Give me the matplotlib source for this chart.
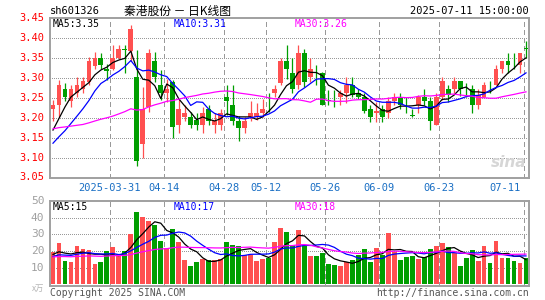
import numpy as np
import pandas as pd
import matplotlib
matplotlib.use("Agg")
import matplotlib.pyplot as plt

# --- data (80 trading days, 2025-03-17 .. 2025-07-11) ------------------------

opens = [3.222, 3.232, 3.272, 3.242, 3.261, 3.272, 3.290, 3.330, 3.350, 3.322,
         3.323, 3.350, 3.371, 3.367, 3.302, 3.133, 3.227, 3.342, 3.282, 3.263,
         3.289, 3.182, 3.202, 3.202, 3.194, 3.182, 3.222, 3.182, 3.182, 3.252,
         3.232, 3.192, 3.173, 3.202, 3.202, 3.211, 3.242, 3.263, 3.286, 3.342,
         3.311, 3.282, 3.361, 3.302, 3.320, 3.311, 3.245, 3.252, 3.252, 3.261,
         3.282, 3.261, 3.252, 3.222, 3.211, 3.222, 3.211, 3.242, 3.252, 3.217,
         3.206, 3.232, 3.252, 3.242, 3.182, 3.252, 3.272, 3.272, 3.292, 3.272,
         3.272, 3.232, 3.252, 3.282, 3.282, 3.322, 3.342, 3.342, 3.332, 3.373]
closes = [3.232, 3.282, 3.252, 3.272, 3.282, 3.292, 3.342, 3.350, 3.332, 3.318,
          3.350, 3.373, 3.371, 3.423, 3.092, 3.223, 3.361, 3.302, 3.263, 3.273,
          3.177, 3.222, 3.212, 3.182, 3.182, 3.211, 3.192, 3.192, 3.211, 3.242,
          3.192, 3.173, 3.192, 3.211, 3.211, 3.222, 3.242, 3.272, 3.342, 3.323,
          3.273, 3.361, 3.290, 3.322, 3.320, 3.233, 3.243, 3.252, 3.261, 3.282,
          3.258, 3.252, 3.218, 3.202, 3.217, 3.202, 3.242, 3.252, 3.232, 3.217,
          3.206, 3.252, 3.242, 3.192, 3.252, 3.292, 3.256, 3.292, 3.272, 3.272,
          3.232, 3.256, 3.282, 3.282, 3.322, 3.342, 3.332, 3.342, 3.361, 3.373]
highs = [3.244, 3.294, 3.286, 3.282, 3.302, 3.302, 3.352, 3.365, 3.361, 3.335,
         3.382, 3.382, 3.382, 3.432, 3.371, 3.278, 3.373, 3.365, 3.320, 3.298,
         3.294, 3.248, 3.232, 3.215, 3.211, 3.228, 3.233, 3.211, 3.223, 3.282,
         3.282, 3.203, 3.201, 3.242, 3.238, 3.248, 3.262, 3.282, 3.350, 3.382,
         3.350, 3.382, 3.373, 3.350, 3.332, 3.315, 3.270, 3.269, 3.270, 3.302,
         3.302, 3.273, 3.263, 3.232, 3.240, 3.233, 3.252, 3.261, 3.261, 3.252,
         3.223, 3.257, 3.272, 3.252, 3.261, 3.301, 3.282, 3.302, 3.292, 3.286,
         3.282, 3.273, 3.290, 3.292, 3.332, 3.342, 3.361, 3.361, 3.361, 3.392]
lows = [3.192, 3.202, 3.242, 3.227, 3.252, 3.261, 3.282, 3.323, 3.323, 3.295,
        3.319, 3.348, 3.311, 3.342, 3.080, 3.098, 3.215, 3.290, 3.244, 3.240,
        3.150, 3.161, 3.192, 3.173, 3.169, 3.161, 3.182, 3.161, 3.169, 3.207,
        3.182, 3.142, 3.161, 3.192, 3.194, 3.202, 3.215, 3.252, 3.282, 3.298,
        3.263, 3.272, 3.277, 3.290, 3.282, 3.232, 3.233, 3.227, 3.233, 3.238,
        3.252, 3.248, 3.213, 3.188, 3.190, 3.190, 3.198, 3.232, 3.222, 3.213,
        3.202, 3.211, 3.232, 3.169, 3.182, 3.244, 3.240, 3.261, 3.255, 3.252,
        3.211, 3.222, 3.252, 3.262, 3.282, 3.311, 3.311, 3.322, 3.311, 3.350]
volumes = [19.6, 25.0, 14.0, 13.4, 23.0, 21.2, 20.6, 12.2, 13.4, 20.0,
           22.4, 18.0, 20.0, 30.2, 43.4, 40.4, 38.0, 35.6, 26.0, 21.5,
           33.2, 25.4, 14.6, 11.0, 13.4, 15.2, 14.6, 14.6, 15.2, 25.2,
           23.6, 23.0, 17.6, 17.6, 14.0, 15.4, 16.0, 25.4, 34.0, 31.4,
           23.6, 32.6, 23.6, 17.0, 17.0, 18.6, 12.2, 11.6, 11.0, 13.6,
           14.6, 17.6, 21.2, 13.4, 21.8, 17.6, 30.8, 19.6, 14.6, 16.4,
           17.0, 15.2, 16.4, 21.2, 23.0, 24.8, 22.4, 18.8, 11.0, 15.8,
           20.6, 14.0, 23.0, 12.8, 26.0, 15.6, 15.6, 14.0, 13.0, 15.6]

# history just before the window, estimated from where the MA lines start
pre_close = [3.19, 3.20, 3.21, 3.22, 3.23, 3.22, 3.21, 3.20, 3.21, 3.22,
             3.21, 3.20, 3.21, 3.19, 3.18, 3.16, 3.15, 3.14, 3.13, 3.12,
             3.12, 3.10, 3.09, 3.10, 3.105, 3.137, 3.107, 3.147, 3.222]
pre_vol = [16, 15, 17, 16, 18, 15, 16, 17, 15, 16, 17, 16, 15, 17, 16,
           18, 15, 16, 17, 16, 15, 16, 15, 16, 15.5, 17, 18, 16, 19]

tick_pos = [10, 19, 29, 36, 46, 55, 65, 79]
tick_labels = ["2025-03-31", "04-14", "04-28", "05-12", "05-26",
               "06-09", "06-23", "07-11"]
price_ticks = [3.05, 3.10, 3.15, 3.20, 3.25, 3.30, 3.35, 3.40, 3.45]
vol_ticks = [10, 20, 30, 40, 50]

RED = "#ff5050"
GREEN = "#009e00"
MA_COLORS = {5: "black", 10: "#0000ff", 30: "#ff00ff"}
GRID = "#999999"
MONO = "DejaVu Sans Mono"
CJK = ["Noto Sans CJK SC", "DejaVu Sans"]
PX = 0.72  # one pixel in points at 100 dpi


def moving_averages(pre, values):
    s = pd.Series(list(pre) + list(values), dtype=float)
    n = len(values)
    return {w: s.rolling(w).mean().to_numpy()[-n:] for w in (5, 10, 30)}


def style_axes(ax, ylim):
    for sp in ax.spines.values():
        sp.set_color("#a0a0a0")
        sp.set_linewidth(1.4)
    ax.set_xticks([])
    ax.set_yticks([])
    ax.set_xlim(-0.5, len(closes) - 0.5)
    ax.set_ylim(*ylim)


def add_grid(ax, hticks):
    """Dashed date lines and dotted value lines, drawn as plain data lines."""
    y0, y1 = ax.get_ylim()
    x0, x1 = ax.get_xlim()
    for p in tick_pos:
        xx = p - 0.3 if p == tick_pos[-1] else p - 0.5
        ax.plot([xx, xx], [y0, y1], color=GRID, lw=PX, ls=(0, (5, 3)),
                zorder=1, antialiased=False)
    for t in hticks:
        ax.plot([x0, x1], [t, t], color=GRID, lw=PX, ls=(0, (1, 2)),
                zorder=1, antialiased=False)
    ax.set_xlim(x0, x1)
    ax.set_ylim(y0, y1)


def add_legend(ax, vals, fmt, y):
    xs = {5: 0.006, 10: 124 / 479, 30: 245 / 479}
    for w, col in MA_COLORS.items():
        ax.text(xs[w], y, f"MA{w}:{vals[w][-1]:{fmt}}", transform=ax.transAxes,
                ha="left", va="top", fontsize=7, family=MONO, color=col)


def main():
    o = np.array(opens); c = np.array(closes)
    h = np.array(highs); l = np.array(lows)
    v = np.array(volumes)
    x = np.arange(len(c))
    colors = np.where(c > o, RED, GREEN)

    pma = moving_averages(pre_close, c)
    vma = moving_averages(pre_vol, v)

    fig = plt.figure(figsize=(5.45, 3.0), dpi=100)
    W, H = 545, 300
    ax = fig.add_axes([50 / W, 1 - 177.5 / H, 479 / W, 159.5 / H])
    axv = fig.add_axes([50 / W, 1 - 285.7 / H, 479 / W, 84.7 / H])

    # --- price panel
    style_axes(ax, (3.05, 3.45))
    add_grid(ax, price_ticks[1:-1])
    ax.vlines(x, l, h, colors=colors, lw=0.9, zorder=2)
    body = np.maximum(np.abs(c - o), 0.0012)
    ax.bar(x, body, bottom=np.minimum(o, c) - np.where(c == o, 0.0006, 0),
           width=0.8, color=colors, lw=0, zorder=3)
    for w, col in MA_COLORS.items():
        ax.plot(x, pma[w], color=col, lw=0.9, zorder=4)
    for t in price_ticks:
        ax.text(-0.012, t, f"{t:.2f}", transform=ax.get_yaxis_transform(),
                ha="right", va="center", color="#ff0000", fontsize=7.5,
                family=MONO)
    for p, lab in zip(tick_pos, tick_labels):
        last = p == tick_pos[-1]
        ax.text(p - 0.9 if last else p - 0.5, -0.035, lab,
                transform=ax.get_xaxis_transform(), ha="right" if last else "center",
                va="top", color="#1a6fc4", fontsize=7.5, family=MONO)
    add_legend(ax, pma, ".2f", 0.995)
    ax.text(0.995, 0.05, "sina", transform=ax.transAxes, ha="right",
            va="bottom", fontsize=11, style="italic", weight="bold",
            color="#d6d6d6", zorder=1)

    # --- volume panel
    style_axes(axv, (-0.85, 50))
    add_grid(axv, vol_ticks[:-1])
    axv.bar(x, v, width=0.8, color=colors, lw=0, zorder=2)
    for w, col in MA_COLORS.items():
        axv.plot(x, vma[w], color=col, lw=0.9, zorder=4)
    for t in vol_ticks:
        axv.text(-0.012, t, f"{t}", transform=axv.get_yaxis_transform(),
                 ha="right", va="center", color="#a0a0a0", fontsize=8,
                 family=MONO)
    axv.text(-0.012, -0.03, "x万", transform=axv.transAxes, ha="right",
             va="center", color="#b4b4b4", fontsize=6, family=CJK)
    add_legend(axv, vma, ".0f", 0.99)

    # --- header / footer
    fig.text(50 / W, 1 - 11 / H, "sh601326", ha="left", va="center",
             fontsize=7.5, family=MONO)
    fig.text(178 / W, 1 - 11 / H, "秦港股份 － 日K线图", ha="center",
             va="center", fontsize=8.5, family=CJK)
    fig.text(529 / W, 1 - 11 / H, "2025-07-11 15:00:00", ha="right",
             va="center", fontsize=7.5, family=MONO)
    fig.text(50 / W, 1 - 293 / H, "Copyright 2025 SINA.COM", ha="left",
             va="center", fontsize=7, family=MONO, color="#555555")
    fig.text(529 / W, 1 - 293 / H, "http://finance.sina.com.cn", ha="right",
             va="center", fontsize=7, family=MONO, color="#555555")

    fig.savefig("out.png", dpi=100, facecolor="white")


if __name__ == "__main__":
    main()
